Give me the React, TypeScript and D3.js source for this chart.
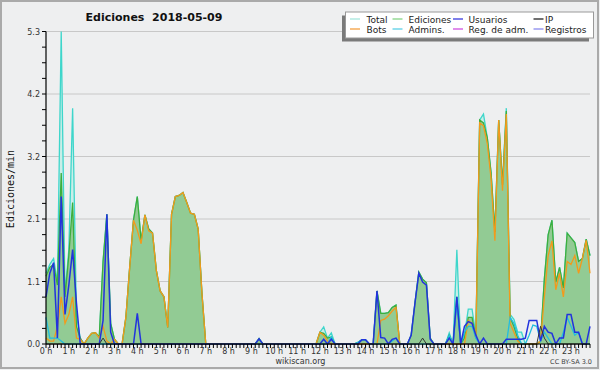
import React from 'react';
import * as d3 from 'd3';

const W = 600;
const H = 370;

const hourLabels = ["0 h","1 h","2 h","3 h","4 h","5 h","6 h","7 h","8 h","9 h","10 h","11 h","12 h","13 h","14 h","15 h","16 h","17 h","18 h","19 h","20 h","21 h","22 h","23 h"];
const yTickValues = [0, 1.06, 2.12, 3.18, 4.24, 5.3];
const yTickLabels = ["0.0", "1.1", "2.1", "3.2", "4.2", "5.3"];

// 10-minute samples, 144 per day
const total = [
  1.2, 1.35, 1.45, 1.05, 5.3, 0.85, 1.6, 4.0, 0.5, 0.1, 0, 0.1,
  0.18, 0.19, 0.12, 1.4, 2.2, 0.35, 0.08, 0, 0, 0.45, 1.3, 2.1,
  2.5, 1.75, 2.19, 1.95, 1.88, 1.25, 0.9, 0.8, 0.28, 2.2, 2.5, 2.52,
  2.57, 2.4, 2.22, 2.2, 1.95, 0.85, 0, 0, 0, 0, 0, 0,
  0, 0, 0, 0, 0, 0, 0, 0, 0.09, 0, 0, 0,
  0, 0, 0, 0, 0, 0, 0, 0, 0, 0, 0, 0,
  0.2, 0.29, 0.1, 0.19, 0, 0, 0, 0, 0, 0, 0.03, 0.07,
  0.07, 0, 0, 0.9, 0.52, 0.52, 0.53, 0.62, 0.66, 0, 0, 0,
  0.15, 0.7, 1.22, 1.1, 1.04, 0.1, 0, 0, 0, 0, 0.19, 0,
  1.6, 0, 0.15, 0.59, 0.59, 0.15, 3.8, 3.9, 3.5, 2.9, 1.9, 3.8,
  2.7, 4.0, 0.5, 0.42, 0.2, 0.2, 0, 0, 0, 0, 0.05, 1.1,
  1.85, 2.1, 1.05, 1.3, 0.95, 1.88, 1.8, 1.72, 1.4, 1.45, 1.78, 1.5,
];

const ediciones = [
  1.15, 1.3, 1.35, 1.0, 2.9, 0.8, 1.5, 2.4, 0.3, 0.1, 0, 0.1,
  0.18, 0.19, 0.12, 1.4, 2.2, 0.35, 0.08, 0, 0, 0.45, 1.3, 2.1,
  2.5, 1.75, 2.19, 1.95, 1.88, 1.25, 0.9, 0.8, 0.28, 2.2, 2.5, 2.52,
  2.57, 2.4, 2.22, 2.2, 1.95, 0.85, 0, 0, 0, 0, 0, 0,
  0, 0, 0, 0, 0, 0, 0, 0, 0.09, 0, 0, 0,
  0, 0, 0, 0, 0, 0, 0, 0, 0, 0, 0, 0,
  0.2, 0.18, 0.1, 0.12, 0, 0, 0, 0, 0, 0, 0.03, 0.07,
  0.07, 0, 0, 0.9, 0.52, 0.52, 0.53, 0.62, 0.66, 0, 0, 0,
  0.15, 0.7, 1.22, 1.1, 1.04, 0.1, 0, 0, 0, 0, 0.15, 0,
  0.8, 0, 0.1, 0.45, 0.45, 0.1, 3.8, 3.75, 3.5, 2.9, 1.9, 3.8,
  2.7, 3.95, 0.45, 0.3, 0.1, 0, 0, 0, 0, 0, 0.05, 1.1,
  1.85, 2.1, 1.05, 1.3, 0.95, 1.88, 1.8, 1.72, 1.4, 1.45, 1.78, 1.5,
];

const bots = [
  0.1, 0.05, 0.05, 0.3, 0.8, 0.35, 0.5, 0.8, 0.1, 0.08, 0, 0.1,
  0.18, 0.19, 0.1, 0.3, 0.05, 0, 0.08, 0, 0, 0.45, 1.3, 2.1,
  1.93, 1.7, 2.19, 1.92, 1.88, 1.25, 0.9, 0.8, 0.28, 2.2, 2.5, 2.52,
  2.57, 2.4, 2.22, 2.2, 1.95, 0.85, 0, 0, 0, 0, 0, 0,
  0, 0, 0, 0, 0, 0, 0, 0, 0, 0, 0, 0,
  0, 0, 0, 0, 0, 0, 0, 0, 0, 0, 0, 0,
  0.2, 0.15, 0.05, 0, 0, 0, 0, 0, 0, 0, 0, 0,
  0, 0, 0, 0, 0.4, 0.42, 0.48, 0.56, 0.62, 0, 0, 0,
  0, 0, 0, 0, 0, 0, 0, 0, 0, 0, 0, 0,
  0, 0, 0, 0.4, 0.35, 0.1, 3.75, 3.7, 3.4, 2.8, 1.75, 3.8,
  2.6, 3.9, 0.35, 0.2, 0.05, 0, 0, 0, 0, 0, 0.05, 0.8,
  1.5, 1.75, 0.92, 1.2, 0.8, 1.4, 1.35, 1.5, 1.2, 1.45, 1.76, 1.2,
];

const usuarios = [
  0.8, 1.2, 1.38, 0.1, 2.5, 0.5, 1.0, 1.6, 0.7, 0, 0, 0,
  0, 0, 0, 0.4, 2.2, 0.2, 0, 0, 0, 0, 0, 0,
  0.52, 0, 0, 0, 0, 0, 0, 0, 0, 0, 0, 0,
  0, 0, 0, 0, 0, 0, 0, 0, 0, 0, 0, 0,
  0, 0, 0, 0, 0, 0, 0, 0, 0.09, 0, 0, 0,
  0, 0, 0, 0, 0, 0, 0, 0, 0, 0, 0, 0,
  0, 0.08, 0, 0.08, 0, 0, 0, 0, 0, 0, 0, 0.07,
  0.07, 0, 0, 0.9, 0.11, 0.1, 0, 0.08, 0.1, 0, 0, 0,
  0.15, 0.7, 1.2, 1.05, 1.0, 0.08, 0, 0, 0, 0, 0.1, 0,
  0.8, 0, 0.3, 0.38, 0.35, 0.15, 0, 0.1, 0, 0, 0, 0,
  0, 0.08, 0.08, 0.08, 0.08, 0.08, 0.1, 0.4, 0.4, 0.4, 0.05, 0.3,
  0.2, 0.18, 0, 0.1, 0.1, 0.5, 0.5, 0.2, 0.2, 0, 0, 0.3,
];

const admins = [
  0.45, 0.1, 0.1, 0.1, 0.05, 0, 0, 0, 0, 0, 0, 0,
  0, 0, 0, 0, 0, 0, 0, 0, 0, 0, 0, 0,
  0, 0, 0, 0, 0, 0, 0, 0, 0, 0, 0, 0,
  0, 0, 0, 0, 0, 0, 0, 0, 0, 0, 0, 0,
  0, 0, 0, 0, 0, 0, 0, 0, 0, 0, 0, 0,
  0, 0, 0, 0, 0, 0, 0, 0, 0, 0, 0, 0,
  0, 0, 0, 0.12, 0, 0, 0, 0, 0, 0, 0.03, 0.07,
  0.07, 0, 0, 0, 0, 0, 0, 0.05, 0.1, 0, 0, 0,
  0, 0, 0, 0, 0, 0, 0, 0, 0, 0, 0.15, 0,
  0.7, 0, 0.2, 0.3, 0.3, 0.1, 0, 0, 0, 0, 0, 0,
  0, 0, 0.45, 0.35, 0.15, 0, 0, 0.15, 0.32, 0.3, 0.05, 0.2,
  0.1, 0, 0, 0, 0.2, 0.45, 0.3, 0.15, 0.2, 0, 0, 0,
];

const ip = [
  0, 0, 0, 0, 0, 0, 0, 0, 0, 0, 0, 0,
  0, 0, 0, 0.1, 0, 0, 0, 0, 0, 0, 0, 0,
  0, 0, 0, 0, 0, 0, 0, 0, 0, 0, 0, 0,
  0, 0, 0, 0, 0, 0, 0, 0, 0, 0, 0, 0,
  0, 0, 0, 0, 0, 0, 0, 0, 0, 0, 0, 0,
  0, 0, 0, 0, 0, 0, 0, 0, 0, 0, 0, 0,
  0, 0, 0, 0, 0, 0, 0, 0, 0, 0, 0, 0,
  0, 0, 0, 0, 0, 0, 0, 0, 0, 0, 0, 0,
  0, 0, 0, 0.1, 0, 0, 0, 0, 0, 0, 0, 0,
  0, 0, 0, 0, 0, 0, 0, 0, 0, 0, 0, 0,
  0, 0, 0, 0, 0, 0, 0, 0, 0, 0, 0.3, 0.1,
  0, 0, 0, 0, 0, 0, 0, 0, 0, 0, 0, 0,
];

const legendNames = ["Total", "Ediciones", "Usuarios", "IP", "Bots", "Admins.", "Reg. de adm.", "Registros"];
const legendColors = ["#a6e6dd", "#86d486", "#3a3adf", "#222222", "#f5a040", "#5ad0e6", "#d050e0", "#8a8aee"];

const FONT = "'DejaVu Sans', Verdana, sans-serif";

export default function App() {
  const x = d3.scaleLinear().domain([0, 143]).range([46, 590]);
  const y = d3.scaleLinear().domain([0, 5.3]).range([344, 31.5]);

  const lineGen = d3.line<number>().x((_, i) => x(i)).y((d) => y(d));
  const areaGen = d3.area<number>().x((_, i) => x(i)).y0(y(0)).y1((d) => y(d));

  const minorTicks = d3.range(0, 21).map((k) => (5.3 * k) / 20);
  const xTicks = d3.range(0, 144);

  const legendCols = [350, 392.5, 453, 533.5];
  const legendTextX = [366.5, 408.5, 468.5, 545];
  const legendRows = [19, 29];

  return (
    <div style={{ position: 'absolute', left: 0, top: 0 }}>
      <svg width={W} height={H} style={{ display: 'block' }}>
        <rect x={0} y={0} width={W} height={H} fill="#eeeff0" />
        <rect x={1} y={1} width={597} height={367} fill="none" stroke="#aaaaaa" strokeWidth={2} />

        {/* gridlines */}
        {yTickValues.map((v, i) => (
          <line key={'g' + i} x1={46} x2={590} y1={y(v)} y2={y(v)} stroke="#c8c8c8" strokeWidth={1} />
        ))}

        {/* series */}
        <path d={areaGen(total) || ''} fill="#c9eee8" />
        <path d={lineGen(total) || ''} fill="none" stroke="#3ed6cb" strokeWidth={1.3} />
        <path d={areaGen(ediciones) || ''} fill="#92cb94" />
        <path d={lineGen(ediciones) || ''} fill="none" stroke="#3dae3d" strokeWidth={1.3} />
        <path d={lineGen(bots) || ''} fill="none" stroke="#f29a1c" strokeWidth={1.3} />
        <path d={lineGen(admins) || ''} fill="none" stroke="#22bde0" strokeWidth={1.3} />
        <path d={lineGen(usuarios) || ''} fill="none" stroke="#2233dd" strokeWidth={1.5} />
        <path d={lineGen(ip) || ''} fill="none" stroke="#333333" strokeWidth={1} />

        {/* y axis */}
        <line x1={46} x2={46} y1={31.5} y2={344} stroke="#000" strokeWidth={1.2} />
        {minorTicks.map((v, i) => (
          <line key={'m' + i} x1={42} x2={46} y1={y(v)} y2={y(v)} stroke="#000" strokeWidth={1} />
        ))}
        {yTickValues.map((v, i) => (
          <text key={'yl' + i} x={40} y={y(v) + 3} textAnchor="end" fontFamily={FONT} fontSize={8} fill="#333">
            {yTickLabels[i]}
          </text>
        ))}

        {/* x axis */}
        <line x1={46} x2={590} y1={344} y2={344} stroke="#000" strokeWidth={1.2} />
        {xTicks.map((i) => (
          <line key={'xt' + i} x1={x(i)} x2={x(i)} y1={344} y2={348} stroke="#000" strokeWidth={1} />
        ))}
        {hourLabels.map((h, i) => (
          <text key={'xl' + i} x={x(i * 6)} y={353.5} textAnchor="middle" fontFamily={FONT} fontSize={8} fill="#333">
            {h}
          </text>
        ))}

        {/* titles */}
        <text x={154} y={21} textAnchor="middle" fontFamily={FONT} fontWeight="bold" fontSize={11} fill="#111" style={{ whiteSpace: 'pre' }}>
          {'Ediciones  2018-05-09'}
        </text>
        <text transform="translate(14,189) rotate(-90)" textAnchor="middle" fontFamily="'DejaVu Sans Mono', monospace" fontSize={10} fill="#111">
          Ediciones/min
        </text>
        <text x={300.5} y={363.5} textAnchor="middle" fontFamily={FONT} fontSize={8} fill="#333">wikiscan.org</text>
        <text x={592} y={364} textAnchor="end" fontFamily={FONT} fontSize={6.5} fill="#444">CC BY-SA 3.0</text>

        {/* legend */}
        <rect x={342} y={15.5} width={247} height={26} fill="#7a7a7a" />
        <rect x={345.5} y={12} width={248} height={26} fill="#ffffff" stroke="#999" strokeWidth={1} />
        {legendNames.map((name, k) => {
          const col = k % 4;
          const row = Math.floor(k / 4);
          const ly = legendRows[row];
          return (
            <g key={'lg' + k}>
              <line x1={legendCols[col]} x2={legendCols[col] + 10} y1={ly} y2={ly} stroke={legendColors[k]} strokeWidth={1.3} />
              <text x={legendTextX[col]} y={ly + 3.5} fontFamily={FONT} fontSize={9} fill="#222">{name}</text>
            </g>
          );
        })}
      </svg>
    </div>
  );
}
